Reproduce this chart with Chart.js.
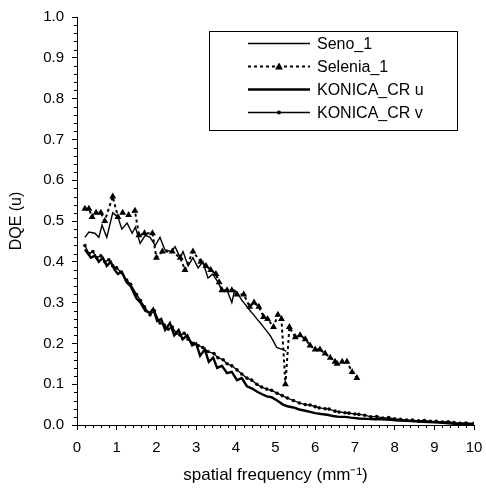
<!DOCTYPE html>
<html>
<head>
<meta charset="utf-8">
<title>DQE vs spatial frequency</title>
<script src="https://cdn.jsdelivr.net/npm/chart.js@4.4.1/dist/chart.umd.min.js"></script>
<style>
  html, body { margin: 0; padding: 0; background: #fff; }
  canvas { display: block; }
</style>
</head>
<body>
<canvas id="dqeChart" width="486" height="488"></canvas>
<script>
// ── Data ──
const senoFreq = [0.2, 0.3, 0.45, 0.55, 0.63, 0.75, 0.9, 1.03, 1.13, 1.26, 1.39, 1.47, 1.59, 1.72, 1.84, 1.97, 2.09, 2.21, 2.38, 2.47, 2.6, 2.67, 2.8, 2.92, 3.05, 3.17, 3.3, 3.42, 3.55, 3.65, 3.78, 3.9, 3.97, 4.03, 4.15, 4.25, 4.36, 4.45, 4.53, 4.62, 4.7, 4.78, 4.86, 4.95, 5.03, 5.12, 5.2, 5.27];
const senoDqe  = [0.46, 0.473, 0.47, 0.46, 0.49, 0.46, 0.52, 0.51, 0.48, 0.495, 0.47, 0.485, 0.445, 0.465, 0.46, 0.44, 0.46, 0.43, 0.425, 0.437, 0.41, 0.425, 0.39, 0.41, 0.385, 0.40, 0.36, 0.37, 0.35, 0.33, 0.33, 0.30, 0.33, 0.325, 0.306, 0.294, 0.28, 0.27, 0.26, 0.25, 0.24, 0.23, 0.22, 0.205, 0.19, 0.187, 0.185, 0.18];

const seleniaFreq = [0.2, 0.3, 0.38, 0.48, 0.6, 0.7, 0.9, 1.03, 1.15, 1.3, 1.46, 1.56, 1.7, 1.9, 2.0, 2.15, 2.4, 2.6, 2.72, 2.92, 3.12, 3.25, 3.37, 3.5, 3.58, 3.65, 3.78, 3.9, 4.03, 4.2, 4.35, 4.46, 4.58, 4.7, 4.8, 4.95, 5.06, 5.15, 5.25, 5.35, 5.5, 5.62, 5.75, 5.87, 6.0, 6.12, 6.25, 6.38, 6.5, 6.55, 6.68, 6.8, 6.93, 7.05];
const seleniaDqe  = [0.53, 0.53, 0.51, 0.52, 0.52, 0.50, 0.56, 0.51, 0.52, 0.515, 0.525, 0.465, 0.47, 0.47, 0.41, 0.425, 0.425, 0.41, 0.38, 0.425, 0.40, 0.39, 0.38, 0.37, 0.35, 0.33, 0.33, 0.33, 0.32, 0.32, 0.29, 0.30, 0.29, 0.265, 0.26, 0.24, 0.27, 0.26, 0.10, 0.24, 0.215, 0.22, 0.21, 0.195, 0.185, 0.185, 0.175, 0.165, 0.155, 0.15, 0.155, 0.155, 0.13, 0.115];

const konicaUFreq = [0.2, 0.28, 0.35, 0.45, 0.55, 0.65, 0.75, 0.85, 0.95, 1.03, 1.13, 1.25, 1.35, 1.5, 1.6, 1.72, 1.84, 1.92, 2.02, 2.12, 2.22, 2.34, 2.45, 2.56, 2.66, 2.78, 2.9, 3.0, 3.1, 3.22, 3.32, 3.43, 3.53, 3.65, 3.78, 3.9, 4.03, 4.15, 4.28, 4.4, 4.53, 4.65, 4.78, 4.9, 5.04, 5.19, 5.3, 5.45, 5.6, 5.75, 5.87, 6.0, 6.15, 6.3, 6.45, 6.6, 6.75, 6.9, 7.1, 7.3, 7.5, 7.7, 7.9, 8.1, 8.3, 8.5, 8.7, 8.9, 9.1, 9.3, 9.5, 9.7, 9.9, 10.0];
const konicaUDqe  = [0.43, 0.42, 0.41, 0.415, 0.40, 0.41, 0.39, 0.40, 0.38, 0.37, 0.375, 0.35, 0.34, 0.31, 0.30, 0.28, 0.275, 0.285, 0.255, 0.26, 0.233, 0.25, 0.22, 0.233, 0.21, 0.22, 0.195, 0.20, 0.17, 0.185, 0.155, 0.165, 0.14, 0.145, 0.127, 0.13, 0.11, 0.115, 0.095, 0.09, 0.082, 0.076, 0.07, 0.068, 0.06, 0.05, 0.046, 0.043, 0.038, 0.035, 0.032, 0.029, 0.027, 0.025, 0.022, 0.02, 0.02, 0.018, 0.016, 0.015, 0.014, 0.014, 0.013, 0.011, 0.01, 0.009, 0.008, 0.007, 0.006, 0.005, 0.003, 0.003, 0.002, 0.002];

const konicaVFreq = [0.2, 0.3, 0.4, 0.5, 0.6, 0.7, 0.8, 0.9, 1.0, 1.1, 1.25, 1.35, 1.5, 1.6, 1.7, 1.84, 1.95, 2.09, 2.2, 2.3, 2.4, 2.5, 2.6, 2.7, 2.8, 2.93, 3.05, 3.17, 3.3, 3.45, 3.55, 3.68, 3.78, 3.9, 4.03, 4.15, 4.28, 4.4, 4.53, 4.65, 4.78, 4.9, 5.04, 5.17, 5.3, 5.45, 5.6, 5.75, 5.87, 6.0, 6.1, 6.25, 6.35, 6.5, 6.6, 6.75, 6.85, 7.0, 7.1, 7.25, 7.4, 7.55, 7.7, 7.85, 8.0, 8.15, 8.3, 8.45, 8.6, 8.75, 8.9, 9.05, 9.2, 9.35, 9.5, 9.65, 9.8, 10.0];
const konicaVDqe  = [0.44, 0.42, 0.425, 0.41, 0.415, 0.40, 0.405, 0.39, 0.385, 0.375, 0.355, 0.345, 0.32, 0.305, 0.29, 0.27, 0.28, 0.25, 0.245, 0.235, 0.24, 0.225, 0.22, 0.225, 0.21, 0.20, 0.195, 0.19, 0.18, 0.175, 0.165, 0.16, 0.15, 0.145, 0.135, 0.125, 0.115, 0.11, 0.10, 0.093, 0.088, 0.085, 0.078, 0.072, 0.066, 0.06, 0.054, 0.05, 0.049, 0.045, 0.042, 0.04, 0.039, 0.034, 0.032, 0.03, 0.029, 0.027, 0.026, 0.024, 0.02, 0.021, 0.017, 0.018, 0.015, 0.014, 0.012, 0.012, 0.01, 0.011, 0.009, 0.009, 0.007, 0.008, 0.006, 0.004, 0.005, 0.004];

const seriesLabels = ['Seno_1', 'Selenia_1', 'KONICA_CR u', 'KONICA_CR v'];

const FONT = '"Liberation Sans", Arial, Helvetica, sans-serif';

function pairs(xs, ys) { return xs.map((x, i) => ({ x, y: ys[i] })); }

// ── Minor ticks (outside, on both axes) ──
const minorTicks = {
  id: 'minorTicks',
  afterDraw(chart) {
    const { ctx, chartArea, scales } = chart;
    ctx.save();
    ctx.strokeStyle = '#000';
    ctx.lineWidth = 1;
    ctx.beginPath();
    for (let i = 1; i < 50; i++) {
      if (i % 5 === 0) continue;
      const y = Math.round(scales.y.getPixelForValue(i * 0.02)) + 0.5;
      ctx.moveTo(chartArea.left - 3, y);
      ctx.lineTo(chartArea.left, y);
    }
    for (let i = 1; i < 50; i++) {
      if (i % 5 === 0) continue;
      const x = Math.round(scales.x.getPixelForValue(i * 0.2)) + 0.5;
      ctx.moveTo(x, chartArea.bottom);
      ctx.lineTo(x, chartArea.bottom + 3);
    }
    ctx.stroke();
    ctx.restore();
  }
};

// ── Boxed legend inside the plot ──
const boxLegend = {
  id: 'boxLegend',
  afterDraw(chart) {
    const ctx = chart.ctx;
    ctx.save();
    ctx.fillStyle = '#fff';
    ctx.fillRect(210, 32, 247, 98);
    ctx.strokeStyle = '#000';
    ctx.lineWidth = 1;
    ctx.strokeRect(209.5, 31.5, 248, 99);
    chart.data.datasets.forEach((ds, i) => {
      const y = 43.5 + i * 23;
      ctx.setLineDash(ds.borderDash || []);
      ctx.lineWidth = ds.borderWidth;
      ctx.beginPath();
      ctx.moveTo(248, y);
      ctx.lineTo(310, y);
      ctx.stroke();
      ctx.setLineDash([]);
      ctx.fillStyle = '#000';
      if (ds.pointStyle === 'triangle') {
        ctx.beginPath();
        ctx.moveTo(279, y - 4);
        ctx.lineTo(283, y + 3);
        ctx.lineTo(275, y + 3);
        ctx.closePath();
        ctx.fill();
      } else if (ds.pointRadius > 0) {
        ctx.beginPath();
        ctx.arc(279, y, 2, 0, Math.PI * 2);
        ctx.fill();
      }
      ctx.font = '16px ' + FONT;
      ctx.textBaseline = 'middle';
      ctx.textAlign = 'left';
      ctx.fillText(ds.label, 317, y + 1);
    });
    ctx.restore();
  }
};

new Chart(document.getElementById('dqeChart'), {
  type: 'line',
  data: {
    datasets: [
      { label: seriesLabels[0], data: pairs(senoFreq, senoDqe), borderColor: '#000', borderWidth: 1.4, pointRadius: 0, fill: false, tension: 0 },
      { label: seriesLabels[1], data: pairs(seleniaFreq, seleniaDqe), borderColor: '#000', borderWidth: 2, borderDash: [3, 3], pointStyle: 'triangle', pointRadius: 4, pointBackgroundColor: '#000', pointBorderColor: '#000', pointBorderWidth: 0, fill: false, tension: 0 },
      { label: seriesLabels[2], data: pairs(konicaUFreq, konicaUDqe), borderColor: '#000', borderWidth: 2.4, pointRadius: 0, fill: false, tension: 0 },
      { label: seriesLabels[3], data: pairs(konicaVFreq, konicaVDqe), borderColor: '#000', borderWidth: 1.3, pointStyle: 'circle', pointRadius: 1.8, pointBackgroundColor: '#000', pointBorderColor: '#000', pointBorderWidth: 0, fill: false, tension: 0 }
    ]
  },
  options: {
    responsive: false,
    animation: false,
    layout: { padding: { top: 17, right: 12, bottom: 0, left: 0 } },
    plugins: { legend: { display: false }, tooltip: { enabled: false } },
    scales: {
      x: {
        type: 'linear', min: 0, max: 10,
        afterFit: s => { s.height = 63; s.paddingLeft = 0; s.paddingRight = 0; },
        grid: { drawOnChartArea: false, drawTicks: true, tickLength: 5, color: '#000' },
        border: { color: '#000', width: 1 },
        ticks: { stepSize: 1, color: '#000', padding: 9, maxRotation: 0, font: { family: FONT, size: 15 } },
        title: { display: true, text: 'spatial frequency (mm⁻¹)', color: '#000', padding: { top: 0, bottom: 2 }, font: { family: FONT, size: 17 } }
      },
      y: {
        min: 0, max: 1,
        afterFit: s => { s.width = 77; },
        grid: { drawOnChartArea: false, drawTicks: true, tickLength: 5, color: '#000' },
        border: { color: '#000', width: 1 },
        ticks: { stepSize: 0.1, color: '#000', padding: 8, font: { family: FONT, size: 15 }, callback: v => v.toFixed(1) },
        title: { display: true, text: 'DQE (u)', color: '#000', padding: { top: 7, bottom: 0 }, font: { family: FONT, size: 16 } }
      }
    }
  },
  plugins: [minorTicks, boxLegend]
});
</script>
</body>
</html>
